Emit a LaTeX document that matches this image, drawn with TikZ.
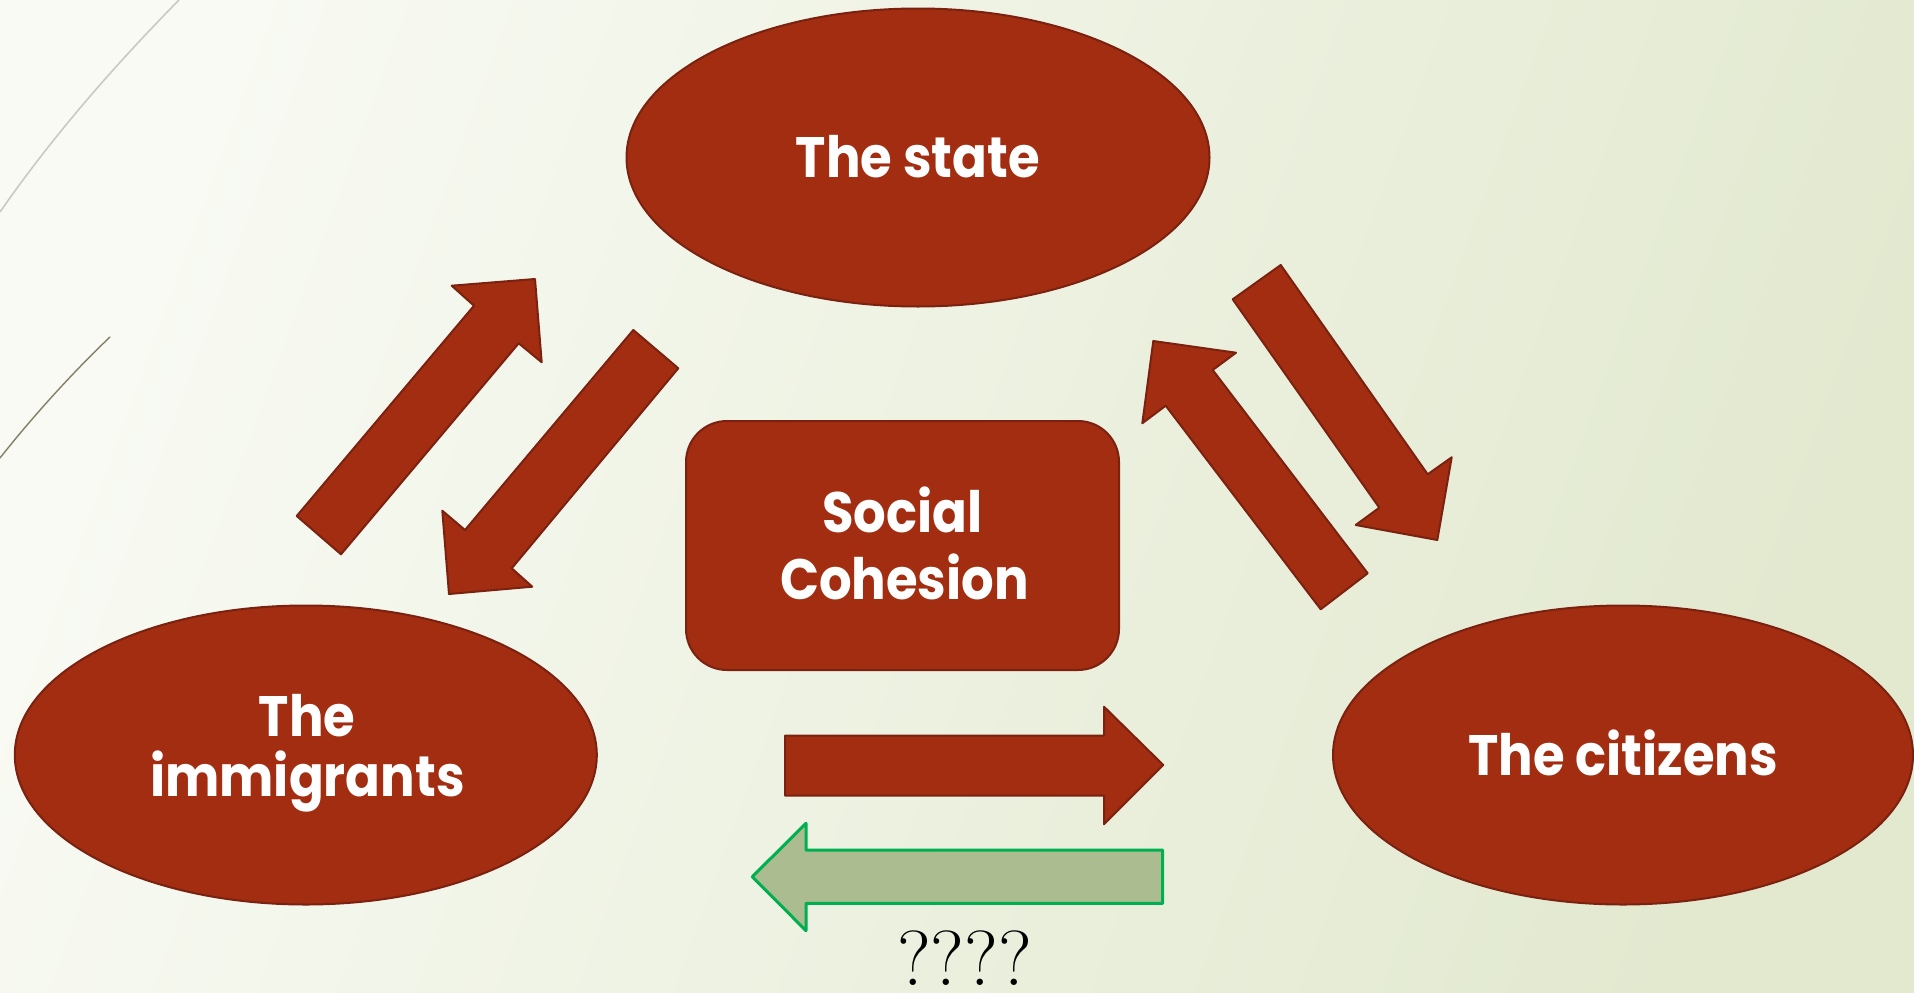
\documentclass[tikz,border=0pt]{standalone}
\usepackage{fontspec}
\newfontfamily\popfont{Poppins}[FakeStretch=0.9]
\usetikzlibrary{shapes.geometric}
\definecolor{bgLight}{HTML}{F8FAF3}
\definecolor{bgDark}{HTML}{E2E9CF}
\definecolor{redFill}{HTML}{A22D10}
\definecolor{redLine}{HTML}{7A2110}
\definecolor{greenFill}{HTML}{ABBC91}
\definecolor{greenLine}{HTML}{00B050}
\definecolor{decoA}{HTML}{C9CBC0}
\definecolor{decoB}{HTML}{857F66}
\tikzset{
  redshape/.style={fill=redFill, draw=redLine, line width=2pt, line join=round},
  greenshape/.style={fill=greenFill, draw=greenLine, line width=3pt, line join=round},
  oval/.style={redshape, ellipse, inner sep=0pt},
  lbl/.style={text=white, font=\popfont\bfseries\fontsize{57}{66}\selectfont, inner sep=0pt, anchor=base}
}
\begin{document}
\begin{tikzpicture}[x=1pt,y=-1pt]
\useasboundingbox (0,0) rectangle (1914,993);
\shade[shading=axis, top color=bgLight, bottom color=bgDark, shading angle=70] (0,0) rectangle (1914,993);
% decorative theme lines
\draw[decoA, line width=1.6pt] (0,212) .. controls (50,140) and (110,70) .. (179,0);
\draw[decoB, line width=1.4pt, line cap=round] (0,458) .. controls (30,420) and (70,375) .. (110,337);
% main shapes
\node[oval, minimum width=583pt, minimum height=298pt] (state) at (918,157.5) {};
\node[oval, minimum width=582pt, minimum height=299pt] (immig) at (305.8,755) {};
\node[oval, minimum width=580pt, minimum height=299pt] (citiz) at (1623,755) {};
\node[redshape, rectangle, rounded corners=41pt, minimum width=433pt, minimum height=249pt] (cohesion) at (902.5,545.5) {};
% labels
\node[lbl] (tstate) at (918,177) {The state};
\node[lbl] (tsoc1) at (902.5,532.7) {Social};
\node[lbl] (tsoc2) at (904.5,599.3) {Cohesion};
\node[lbl] (timm1) at (307,736) {The};
\node[lbl] (timm2) at (307.4,796.7) {immigrants};
\node[lbl] (tcit) at (1623,775) {The citizens};
% block arrows between state and immigrants
\draw[redshape] (296.7,516) -- (474,305.7) -- (451.7,285.7) -- (535,279) -- (541.7,362.3) -- (518.7,343.3) -- (341,554.3) -- cycle;
\draw[redshape] (633.3,330) -- (678.3,368.3) -- (511.7,568.3) -- (532.3,586.7) -- (449,594) -- (442.3,510.7) -- (465,530) -- cycle;
% block arrows between state and citizens
\draw[redshape] (1232.7,299.3) -- (1280.7,265) -- (1427.7,474.3) -- (1451.7,457.3) -- (1437.3,540) -- (1355.7,525) -- (1379.3,507.7) -- cycle;
\draw[redshape] (1367.7,573.3) -- (1320.7,609.3) -- (1165.7,405.7) -- (1142.3,423.3) -- (1153.3,341) -- (1236,352.7) -- (1212.7,370) -- cycle;
% horizontal arrows
\draw[redshape] (785,735.7) -- (1104,735.7) -- (1104,706.7) -- (1163.3,765) -- (1104,824.3) -- (1104,795.7) -- (785,795.7) -- cycle;
\draw[greenshape] (1162.7,850) -- (806,850) -- (806,823.3) -- (752.3,876.7) -- (806,930.7) -- (806,903.3) -- (1162.7,903.3) -- cycle;
\node[inner sep=0pt, anchor=base, font=\rmfamily\fontsize{78}{84}\selectfont] (qmarks) at (964.7,985) {????};
\end{tikzpicture}
\end{document}
